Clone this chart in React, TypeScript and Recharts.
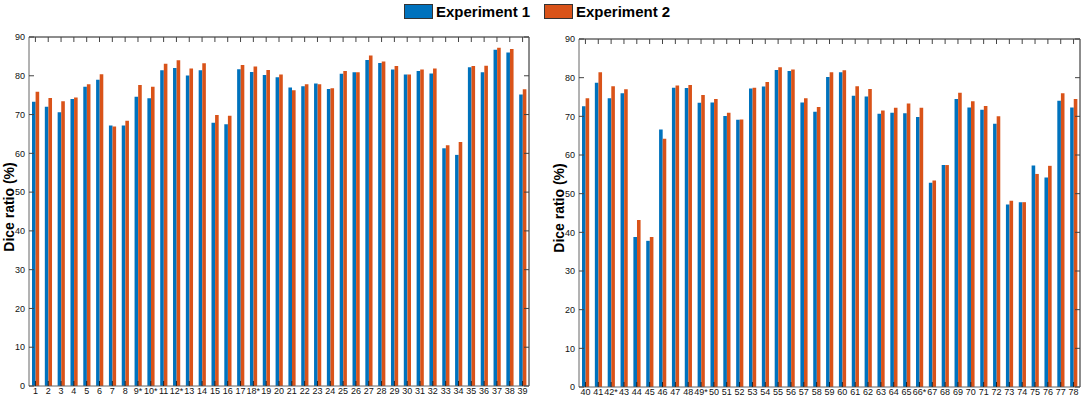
import { BarChart, Bar, Line, XAxis, YAxis, CartesianGrid } from "recharts";

const leftCategories = [
  "1", "2", "3", "4", "5", "6", "7", "8", "9*", "10*",
  "11", "12*", "13", "14", "15", "16", "17", "18*", "19", "20",
  "21", "22", "23", "24", "25", "26", "27", "28", "29", "30",
  "31", "32", "33", "34", "35", "36", "37", "38", "39",
];
const leftExp1 = [
  73.3, 72.0, 70.6, 74.0, 77.2, 79.0, 67.2, 67.2, 74.6, 74.2,
  81.4, 82.0, 80.1, 81.4, 67.9, 67.5, 81.7, 81.0, 80.2, 79.6,
  77.0, 77.3, 78.0, 76.6, 80.5, 80.9, 84.1, 83.3, 81.6, 80.3,
  81.2, 80.6, 61.3, 59.6, 82.2, 80.9, 86.7, 86.0, 75.2,
];
const leftExp2 = [
  75.9, 74.3, 73.4, 74.4, 77.8, 80.4, 66.9, 68.4, 77.6, 77.2,
  83.1, 84.0, 81.9, 83.2, 69.9, 69.7, 82.8, 82.4, 81.5, 80.3,
  76.3, 77.8, 77.8, 76.8, 81.2, 80.9, 85.2, 83.7, 82.5, 80.3,
  81.6, 81.9, 62.1, 62.9, 82.5, 82.6, 87.2, 86.9, 76.5,
];

const rightCategories = [
  "40", "41", "42*", "43", "44", "45", "46", "47", "48", "49*",
  "50", "51", "52", "53", "54", "55", "56", "57", "58", "59",
  "60", "61", "62", "63", "64", "65", "66*", "67", "68", "69",
  "70", "71", "72", "73", "74", "75", "76", "77", "78",
];
const rightExp1 = [
  72.6, 78.7, 74.7, 76.0, 38.8, 37.8, 66.6, 77.4, 77.3, 73.5,
  73.6, 70.1, 69.1, 77.2, 77.7, 82.0, 81.7, 73.6, 71.2, 80.2,
  81.4, 75.3, 75.1, 70.7, 70.9, 70.8, 69.8, 52.8, 57.4, 74.5,
  72.3, 71.7, 68.1, 47.2, 47.8, 57.3, 54.2, 74.0, 72.3,
];
const rightExp2 = [
  74.7, 81.4, 77.8, 77.0, 43.2, 38.8, 64.2, 78.0, 78.1, 75.5,
  74.5, 70.9, 69.2, 77.4, 78.9, 82.7, 82.1, 74.7, 72.4, 81.4,
  81.9, 77.8, 77.1, 71.5, 72.2, 73.3, 72.2, 53.4, 57.4, 76.1,
  73.9, 72.7, 70.0, 48.2, 47.8, 55.1, 57.2, 76.0, 74.5,
];

const yTicks = [0, 10, 20, 30, 40, 50, 60, 70, 80, 90];

const BLUE = "#0072BD";
const ORANGE = "#D95319";
const FONT = "'Liberation Sans', Arial, Helvetica, sans-serif";

const noLabel = () => <g />;

function Panel({
  categories,
  exp1,
  exp2,
  left,
  width,
  top,
  right,
  xHeight,
  titleX,
}: {
  categories: string[];
  exp1: number[];
  exp2: number[];
  left: number;
  width: number;
  top: number;
  right: number;
  xHeight: number;
  titleX: number;
}) {
  const data = categories.map((c, i) => ({ name: c, e1: exp1[i], e2: exp2[i] }));
  const plotMid = (top + 402 - xHeight) / 2;
  return (
    <>
      <div style={{ position: "absolute", left, top: 0 }}>
        <BarChart
          width={width}
          height={402}
          data={data}
          margin={{ top, right, left: 0, bottom: 0 }}
          barGap={0}
          barSize={3.6}
        >
          {/* box: top and right edges of the plot area */}
          <CartesianGrid
            xAxisId="b"
            yAxisId="l"
            stroke="#666"
            strokeOpacity={1}
            horizontalCoordinatesGenerator={({ offset }: any) => [offset.top]}
            verticalCoordinatesGenerator={({ offset }: any) => [offset.left + offset.width]}
          />
          <Bar dataKey="e1" xAxisId="b" yAxisId="l" fill={BLUE} isAnimationActive={false} />
          <Bar dataKey="e2" xAxisId="b" yAxisId="l" fill={ORANGE} isAnimationActive={false} />
          {/* invisible series so the mirrored box axes get drawn */}
          <Line
            dataKey="e1"
            xAxisId="t"
            yAxisId="r"
            stroke="none"
            dot={false}
            activeDot={false}
            legendType="none"
            isAnimationActive={false}
          />
          <XAxis
            xAxisId="b"
            dataKey="name"
            interval={0}
            height={xHeight}
            tickSize={-5}
            tickMargin={7}
            tick={{ fontSize: 9, fill: "#111", fontFamily: FONT }}
            axisLine={{ stroke: "#666" }}
            tickLine={{ stroke: "#222" }}
          />
          <XAxis
            xAxisId="t"
            dataKey="name"
            orientation="top"
            mirror
            height={1}
            interval={0}
            tick={noLabel}
            tickSize={5}
            axisLine={{ stroke: "#666" }}
            tickLine={{ stroke: "#444" }}
          />
          <YAxis
            yAxisId="l"
            type="number"
            width={29}
            domain={[0, 90]}
            ticks={yTicks}
            tickSize={-5}
            tickMargin={9}
            tick={{ fontSize: 9, fill: "#111", fontFamily: FONT }}
            axisLine={{ stroke: "#666" }}
            tickLine={{ stroke: "#444" }}
          />
          <YAxis
            yAxisId="r"
            type="number"
            orientation="right"
            mirror
            width={1}
            domain={[0, 90]}
            ticks={yTicks}
            tick={noLabel}
            tickSize={5}
            axisLine={{ stroke: "#666" }}
            tickLine={{ stroke: "#444" }}
          />
        </BarChart>
      </div>
      <div
        style={{
          position: "absolute",
          left: titleX,
          top: plotMid - 5,
          transform: "translate(-50%, -50%) rotate(-90deg)",
          fontWeight: "bold",
          fontSize: 14,
          whiteSpace: "nowrap",
          fontFamily: FONT,
        }}
      >
        Dice ratio (%)
      </div>
    </>
  );
}

function LegendItem({ x, color, label }: { x: number; color: string; label: string }) {
  return (
    <div style={{ position: "absolute", left: x, top: 4, display: "flex", alignItems: "center" }}>
      <div style={{ width: 27, height: 13, background: color, border: "1px solid #333" }} />
      <span style={{ marginLeft: 3, fontWeight: "bold", fontSize: 15, fontFamily: FONT, lineHeight: "15px" }}>
        {label}
      </span>
    </div>
  );
}

export default function App() {
  return (
    <div
      style={{
        position: "absolute",
        left: 0,
        top: 0,
        width: 1084,
        height: 402,
        background: "#fff",
        overflow: "hidden",
        fontFamily: FONT,
      }}
    >
      <LegendItem x={404} color={BLUE} label="Experiment 1" />
      <LegendItem x={544} color={ORANGE} label="Experiment 2" />
      <Panel
        categories={leftCategories}
        exp1={leftExp1}
        exp2={leftExp2}
        left={0}
        width={540}
        top={37}
        right={11}
        xHeight={16}
        titleX={9}
      />
      <Panel
        categories={rightCategories}
        exp1={rightExp1}
        exp2={rightExp2}
        left={550}
        width={534}
        top={39}
        right={4}
        xHeight={15}
        titleX={559}
      />
    </div>
  );
}
